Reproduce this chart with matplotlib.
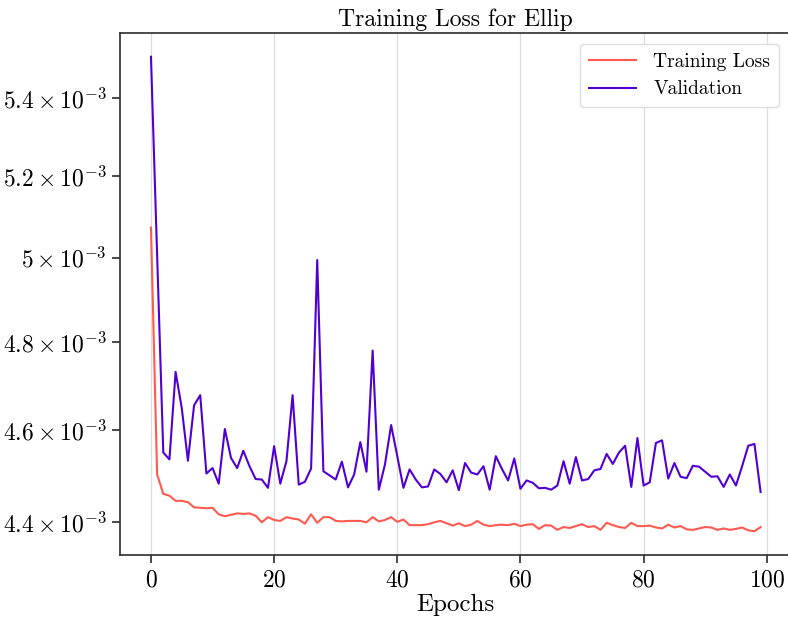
import matplotlib
matplotlib.use("Agg")
import matplotlib.pyplot as plt
from matplotlib.ticker import FixedLocator, FixedFormatter, NullLocator
import numpy as np

epochs = list(range(100))

training_loss = [
    5.073, 4.502, 4.460, 4.456, 4.445, 4.445, 4.442, 4.431, 4.430, 4.429,
    4.430, 4.416, 4.412, 4.415, 4.418, 4.417, 4.418, 4.413, 4.399, 4.410,
    4.404, 4.402, 4.410, 4.407, 4.405, 4.396, 4.416, 4.398, 4.410, 4.410,
    4.402, 4.401, 4.402, 4.402, 4.402, 4.399, 4.410, 4.401, 4.404, 4.410,
    4.400, 4.405, 4.393, 4.393, 4.393, 4.395, 4.399, 4.402, 4.397, 4.392,
    4.397, 4.391, 4.394, 4.402, 4.394, 4.391, 4.393, 4.394, 4.393, 4.396,
    4.391, 4.394, 4.395, 4.385, 4.393, 4.392, 4.383, 4.389, 4.387, 4.391,
    4.395, 4.389, 4.391, 4.383, 4.398, 4.393, 4.389, 4.387, 4.398, 4.391,
    4.391, 4.392, 4.388, 4.386, 4.394, 4.388, 4.391, 4.384, 4.383, 4.386,
    4.389, 4.388, 4.383, 4.386, 4.383, 4.385, 4.388, 4.382, 4.380, 4.389,
]

validation = [
    5.510, 5.006, 4.550, 4.535, 4.731, 4.649, 4.532, 4.655, 4.678, 4.504,
    4.516, 4.482, 4.602, 4.538, 4.516, 4.554, 4.520, 4.492, 4.491, 4.473,
    4.564, 4.482, 4.531, 4.678, 4.480, 4.486, 4.515, 4.994, 4.509, 4.500,
    4.491, 4.530, 4.474, 4.502, 4.573, 4.508, 4.780, 4.469, 4.524, 4.611,
    4.542, 4.473, 4.513, 4.491, 4.474, 4.476, 4.513, 4.503, 4.485, 4.511,
    4.468, 4.527, 4.506, 4.502, 4.520, 4.469, 4.542, 4.514, 4.489, 4.537,
    4.471, 4.489, 4.484, 4.472, 4.473, 4.469, 4.478, 4.531, 4.482, 4.540,
    4.489, 4.492, 4.511, 4.514, 4.547, 4.525, 4.550, 4.565, 4.475, 4.582,
    4.478, 4.485, 4.571, 4.577, 4.493, 4.527, 4.497, 4.494, 4.521, 4.519,
    4.508, 4.497, 4.498, 4.475, 4.502, 4.478, 4.520, 4.565, 4.569, 4.464,
]

scale = 1e-3
ytick_values = [4.4, 4.6, 4.8, 5.0, 5.2, 5.4]
ytick_labels = [r"$4.4\times10^{-3}$", r"$4.6\times10^{-3}$", r"$4.8\times10^{-3}$",
                r"$5\times10^{-3}$", r"$5.2\times10^{-3}$", r"$5.4\times10^{-3}$"]

plt.rcParams["font.family"] = "serif"
plt.rcParams["font.serif"] = ["cmr10", "DejaVu Serif"]
plt.rcParams["mathtext.fontset"] = "cm"
plt.rcParams["axes.unicode_minus"] = False
plt.rcParams["axes.formatter.use_mathtext"] = True

fig = plt.figure(figsize=(7.88, 6.25), dpi=100)
ax = fig.add_axes([0.1529, 0.112, 0.851, 0.8352])

tr = np.array(training_loss) * scale
va = np.array(validation) * scale
ax.plot(epochs, tr, color="#ff5a50", lw=1.5, label="Training Loss")
ax.plot(epochs, va, color="#5000d2", lw=1.5, label="Validation")

ax.set_yscale("log")
ax.yaxis.set_major_locator(FixedLocator([v * scale for v in ytick_values]))
ax.yaxis.set_major_formatter(FixedFormatter(ytick_labels))
ax.yaxis.set_minor_locator(NullLocator())

ax.set_xticks([0, 20, 40, 60, 80, 100])
ax.grid(axis="x", color="#dddddd", lw=0.9)
ax.set_axisbelow(True)

for s in ax.spines.values():
    s.set_color("#333333")
    s.set_linewidth(1.25)

ax.tick_params(axis="both", which="major", direction="out", length=6,
               width=1.25, color="#333333", labelsize=17, pad=4)

ax.set_title("Training Loss for Ellip", fontsize=17, pad=5)
ax.set_xlabel("Epochs", fontsize=18, labelpad=2)

leg = ax.legend(loc="upper right", fontsize=14, frameon=True, fancybox=True,
                edgecolor="#dddddd", framealpha=1.0, borderpad=0.45,
                labelspacing=0.5, handlelength=2.4, handletextpad=0.9,
                borderaxespad=0.0, bbox_to_anchor=(0.982, 0.979))

fig.savefig("out.png", dpi=100)
